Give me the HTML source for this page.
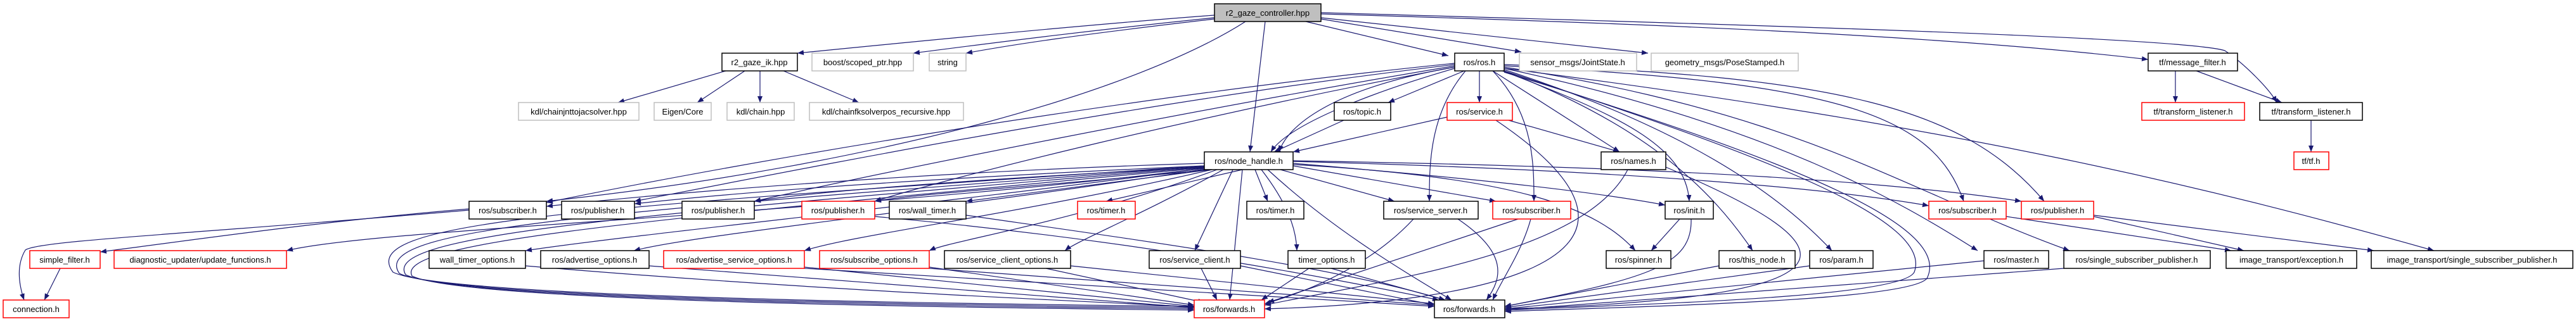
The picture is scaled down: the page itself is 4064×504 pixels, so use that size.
<!DOCTYPE html>
<html><head><meta charset="utf-8"><style>
html,body{margin:0;padding:0;background:#fff;}
svg{display:block;}
text{font-family:"Liberation Sans",sans-serif;font-size:13px;fill:#000;text-anchor:middle;}
.e path{fill:none;stroke:#191970;stroke-width:1.2;}
</style></head><body>
<svg width="4064" height="504" viewBox="0 0 4064 504" xmlns="http://www.w3.org/2000/svg">
<defs><marker id="a" markerWidth="10" markerHeight="8" refX="10" refY="4" orient="auto" markerUnits="userSpaceOnUse"><path d="M0,0 L10,4 L0,8z" fill="#191970"/></marker></defs>
<g class="e" marker-end="url(#a)">
<path marker-end="url(#a)" d="M1916,24 C1700,40 1400,70 1258,84"/>
<path marker-end="url(#a)" d="M1916,28 C1700,50 1550,70 1441,84"/>
<path marker-end="url(#a)" d="M1916,30 C1700,55 1600,70 1524,84"/>
<path marker-end="url(#a)" d="M1965,34 C1800,140 1400,260 862,318"/>
<path marker-end="url(#a)" d="M1996,34 L1972,240"/>
<path marker-end="url(#a)" d="M2060,34 L2285,88"/>
<path marker-end="url(#a)" d="M2084,30 L2400,82"/>
<path marker-end="url(#a)" d="M2084,28 L2600,84"/>
<path marker-end="url(#a)" d="M2084,22 C2700,40 3100,60 3389,94"/>
<path marker-end="url(#a)" d="M2084,20 C2800,40 3450,60 3510,80 C3540,100 3580,140 3592,162"/>
<path marker-end="url(#a)" d="M1145,112 L975,162"/>
<path marker-end="url(#a)" d="M1175,112 L1100,162"/>
<path marker-end="url(#a)" d="M1199,112 L1199,162"/>
<path marker-end="url(#a)" d="M1236,112 L1355,162"/>
<path marker-end="url(#a)" d="M3432,112 L3432,162"/>
<path marker-end="url(#a)" d="M3465,112 L3600,162"/>
<path marker-end="url(#a)" d="M3646,190 L3646,240"/>
<path marker-end="url(#a)" d="M2310,112 L2190,162"/>
<path marker-end="url(#a)" d="M2334,112 L2334,162"/>
<path marker-end="url(#a)" d="M2295,108 C2150,150 2030,200 2005,240"/>
<path marker-end="url(#a)" d="M2295,106 C2100,140 2030,200 2018,240"/>
<path marker-end="url(#a)" d="M2295,100 C1800,150 1200,250 862,320"/>
<path marker-end="url(#a)" d="M2295,102 C1800,160 1300,260 1001,318"/>
<path marker-end="url(#a)" d="M2295,104 C1900,170 1400,270 1190,318"/>
<path marker-end="url(#a)" d="M2295,106 C1900,180 1500,280 1380,318"/>
<path marker-end="url(#a)" d="M2312,112 C2255,180 2255,260 2255,318"/>
<path marker-end="url(#a)" d="M2355,112 C2420,180 2420,260 2420,318"/>
<path marker-end="url(#a)" d="M2355,112 L2555,240"/>
<path marker-end="url(#a)" d="M2370,112 C2550,180 2660,230 2665,318"/>
<path marker-end="url(#a)" d="M2373,112 C2600,200 2700,300 2765,396"/>
<path marker-end="url(#a)" d="M2373,110 C2650,200 2800,300 2890,396"/>
<path marker-end="url(#a)" d="M2373,108 C2800,200 3000,320 3120,396"/>
<path marker-end="url(#a)" d="M2373,106 C2850,180 3000,300 3265,396"/>
<path marker-end="url(#a)" d="M2373,104 C2900,130 3050,180 3098,318"/>
<path marker-end="url(#a)" d="M2373,102 C2900,120 3100,170 3225,318"/>
<path marker-end="url(#a)" d="M2373,108 C3100,200 3500,300 3840,396"/>
<path marker-end="url(#a)" d="M2373,112 C2800,250 3050,350 3020,430 C3000,470 2600,480 2374,490"/>
<path marker-end="url(#a)" d="M2373,114 C2850,260 3080,360 3040,440 C3010,475 2600,484 2374,492"/>
<path marker-end="url(#a)" d="M2120,190 L2010,240"/>
<path marker-end="url(#a)" d="M2283,185 L2040,240"/>
<path marker-end="url(#a)" d="M2380,190 L2555,240"/>
<path marker-end="url(#a)" d="M2360,190 C2700,420 2300,480 1995,488"/>
<path marker-end="url(#a)" d="M1900,258 C1500,270 1100,300 862,326"/>
<path marker-end="url(#a)" d="M1900,262 C1500,280 1200,300 1001,322"/>
<path marker-end="url(#a)" d="M1900,264 C1600,280 1300,300 1190,318"/>
<path marker-end="url(#a)" d="M1905,268 C1700,290 1450,305 1380,318"/>
<path marker-end="url(#a)" d="M1910,268 L1524,318"/>
<path marker-end="url(#a)" d="M1960,268 L1745,318"/>
<path marker-end="url(#a)" d="M1980,268 L2000,318"/>
<path marker-end="url(#a)" d="M2020,268 L2200,318"/>
<path marker-end="url(#a)" d="M2040,262 L2360,318"/>
<path marker-end="url(#a)" d="M2040,258 C2300,280 2500,300 2627,324"/>
<path marker-end="url(#a)" d="M2040,260 C2400,280 2520,330 2580,396"/>
<path marker-end="url(#a)" d="M2040,255 C2600,270 2900,300 3043,325"/>
<path marker-end="url(#a)" d="M2040,254 C2700,265 3000,290 3189,318"/>
<path marker-end="url(#a)" d="M1905,265 C1500,320 1000,370 829,396"/>
<path marker-end="url(#a)" d="M1908,266 C1500,330 1100,370 1000,396"/>
<path marker-end="url(#a)" d="M1912,268 C1600,340 1350,370 1269,396"/>
<path marker-end="url(#a)" d="M1920,268 C1700,350 1500,380 1466,396"/>
<path marker-end="url(#a)" d="M1930,268 C1800,340 1700,380 1680,396"/>
<path marker-end="url(#a)" d="M1945,268 L1885,396"/>
<path marker-end="url(#a)" d="M1990,268 C2030,320 2045,360 2046,396"/>
<path marker-end="url(#a)" d="M1960,268 L1940,474"/>
<path marker-end="url(#a)" d="M2000,268 C2100,360 2200,420 2290,474"/>
<path marker-end="url(#a)" d="M1900,266 C1300,340 600,360 452,396"/>
<path marker-end="url(#a)" d="M1900,262 C900,330 560,350 620,430 C700,470 1500,480 1884,484"/>
<path marker-end="url(#a)" d="M1900,263 C950,335 580,360 630,432 C710,472 1500,482 1884,486"/>
<path marker-end="url(#a)" d="M1900,264 C1000,340 600,370 640,434 C720,474 1500,484 1884,488"/>
<path marker-end="url(#a)" d="M1900,265 C1050,345 620,380 650,436 C730,476 1500,486 1884,490"/>
<path marker-end="url(#a)" d="M740,330 C500,350 300,380 158,398"/>
<path marker-end="url(#a)" d="M740,332 C300,370 60,380 40,395 C25,420 30,450 38,474"/>
<path marker-end="url(#a)" d="M95,424 L70,474"/>
<path marker-end="url(#a)" d="M1524,340 C1800,380 2100,420 2280,474"/>
<path marker-end="url(#a)" d="M1380,342 C1800,380 2100,440 2270,474"/>
<path marker-end="url(#a)" d="M829,420 C1300,460 1700,475 1884,485"/>
<path marker-end="url(#a)" d="M1024,420 L1884,486"/>
<path marker-end="url(#a)" d="M1269,422 L1884,484"/>
<path marker-end="url(#a)" d="M1269,424 L2263,484"/>
<path marker-end="url(#a)" d="M1466,422 L1884,482"/>
<path marker-end="url(#a)" d="M1466,424 L2263,482"/>
<path marker-end="url(#a)" d="M1650,424 L1900,478"/>
<path marker-end="url(#a)" d="M1689,420 L2263,480"/>
<path marker-end="url(#a)" d="M1895,424 L1920,474"/>
<path marker-end="url(#a)" d="M1957,420 L2263,482"/>
<path marker-end="url(#a)" d="M2065,424 L1990,474"/>
<path marker-end="url(#a)" d="M2100,424 L2280,474"/>
<path marker-end="url(#a)" d="M2230,346 C2180,400 2100,450 1995,480"/>
<path marker-end="url(#a)" d="M2300,346 C2380,400 2370,440 2345,474"/>
<path marker-end="url(#a)" d="M2395,346 L2000,478"/>
<path marker-end="url(#a)" d="M2415,346 C2400,400 2370,440 2355,474"/>
<path marker-end="url(#a)" d="M2568,268 C2500,400 2200,440 1995,482"/>
<path marker-end="url(#a)" d="M2650,346 L2605,396"/>
<path marker-end="url(#a)" d="M2668,346 C2670,420 2600,440 2374,484"/>
<path marker-end="url(#a)" d="M2712,420 L2374,484"/>
<path marker-end="url(#a)" d="M2855,420 L2374,486"/>
<path marker-end="url(#a)" d="M3130,412 L2374,488"/>
<path marker-end="url(#a)" d="M3256,424 L2374,490"/>
<path marker-end="url(#a)" d="M3165,342 L3520,396"/>
<path marker-end="url(#a)" d="M3303,342 L3540,396"/>
<path marker-end="url(#a)" d="M3303,340 L3745,396"/>
<path marker-end="url(#a)" d="M2628,264 C2900,380 3000,470 2374,488"/>
</g>
<g stroke-width="1.5">
<rect x="1916" y="6" width="168" height="28" fill="#bfbfbf" stroke="#000"/><text x="2000" y="25">r2_gaze_controller.hpp</text>
<g fill="#fff">
<rect x="1139" y="84" width="119" height="28" stroke="#000"/>
<rect x="1281" y="84" width="160" height="28" stroke="#bfbfbf"/>
<rect x="1466" y="84" width="58" height="28" stroke="#bfbfbf"/>
<rect x="2295" y="84" width="78" height="28" stroke="#000"/>
<rect x="2397" y="84" width="185" height="28" stroke="#bfbfbf"/>
<rect x="2605" y="84" width="232" height="28" stroke="#bfbfbf"/>
<rect x="3389" y="84" width="141" height="28" stroke="#000"/>
<rect x="818" y="162" width="190" height="28" stroke="#bfbfbf"/>
<rect x="1032" y="162" width="90" height="28" stroke="#bfbfbf"/>
<rect x="1147" y="162" width="106" height="28" stroke="#bfbfbf"/>
<rect x="1277" y="162" width="243" height="28" stroke="#bfbfbf"/>
<rect x="2105" y="162" width="89" height="28" stroke="#000"/>
<rect x="2283" y="162" width="103" height="28" stroke="#f00"/>
<rect x="3379" y="162" width="162" height="28" stroke="#f00"/>
<rect x="3565" y="162" width="162" height="28" stroke="#000"/>
<rect x="1900" y="240" width="140" height="28" stroke="#000"/>
<rect x="2526" y="240" width="102" height="28" stroke="#000"/>
<rect x="3619" y="240" width="55" height="28" stroke="#f00"/>
<rect x="740" y="318" width="122" height="28" stroke="#000"/>
<rect x="886" y="318" width="115" height="28" stroke="#000"/>
<rect x="1076" y="318" width="114" height="28" stroke="#000"/>
<rect x="1265" y="318" width="115" height="28" stroke="#f00"/>
<rect x="1403" y="318" width="121" height="28" stroke="#000"/>
<rect x="1700" y="318" width="91" height="28" stroke="#f00"/>
<rect x="1967" y="318" width="90" height="28" stroke="#000"/>
<rect x="2183" y="318" width="149" height="28" stroke="#000"/>
<rect x="2355" y="318" width="123" height="28" stroke="#f00"/>
<rect x="2627" y="318" width="76" height="28" stroke="#000"/>
<rect x="3043" y="318" width="122" height="28" stroke="#f00"/>
<rect x="3189" y="318" width="114" height="28" stroke="#f00"/>
<rect x="47" y="396" width="111" height="28" stroke="#f00"/>
<rect x="180" y="396" width="272" height="28" stroke="#f00"/>
<rect x="677" y="396" width="152" height="28" stroke="#000"/>
<rect x="853" y="396" width="171" height="28" stroke="#000"/>
<rect x="1047" y="396" width="222" height="28" stroke="#f00"/>
<rect x="1293" y="396" width="173" height="28" stroke="#f00"/>
<rect x="1490" y="396" width="199" height="28" stroke="#000"/>
<rect x="1813" y="396" width="144" height="28" stroke="#000"/>
<rect x="2032" y="396" width="122" height="28" stroke="#000"/>
<rect x="2534" y="396" width="102" height="28" stroke="#000"/>
<rect x="2712" y="396" width="120" height="28" stroke="#000"/>
<rect x="2855" y="396" width="100" height="28" stroke="#000"/>
<rect x="3130" y="396" width="102" height="28" stroke="#000"/>
<rect x="3256" y="396" width="231" height="28" stroke="#000"/>
<rect x="3512" y="396" width="206" height="28" stroke="#000"/>
<rect x="3741" y="396" width="318" height="28" stroke="#000"/>
<rect x="5" y="474" width="104" height="28" stroke="#f00"/>
<rect x="1884" y="474" width="111" height="28" stroke="#f00"/>
<rect x="2263" y="474" width="111" height="28" stroke="#000"/>
</g></g>
<g>
<text x="1198" y="103">r2_gaze_ik.hpp</text>
<text x="1361" y="103">boost/scoped_ptr.hpp</text>
<text x="1495" y="103">string</text>
<text x="2334" y="103">ros/ros.h</text>
<text x="2489" y="103">sensor_msgs/JointState.h</text>
<text x="2721" y="103">geometry_msgs/PoseStamped.h</text>
<text x="3459" y="103">tf/message_filter.h</text>
<text x="913" y="181">kdl/chainjnttojacsolver.hpp</text>
<text x="1077" y="181">Eigen/Core</text>
<text x="1200" y="181">kdl/chain.hpp</text>
<text x="1398" y="181">kdl/chainfksolverpos_recursive.hpp</text>
<text x="2149" y="181">ros/topic.h</text>
<text x="2334" y="181">ros/service.h</text>
<text x="3460" y="181">tf/transform_listener.h</text>
<text x="3646" y="181">tf/transform_listener.h</text>
<text x="1970" y="259">ros/node_handle.h</text>
<text x="2577" y="259">ros/names.h</text>
<text x="3646" y="259">tf/tf.h</text>
<text x="801" y="337">ros/subscriber.h</text>
<text x="943" y="337">ros/publisher.h</text>
<text x="1133" y="337">ros/publisher.h</text>
<text x="1322" y="337">ros/publisher.h</text>
<text x="1463" y="337">ros/wall_timer.h</text>
<text x="1745" y="337">ros/timer.h</text>
<text x="2012" y="337">ros/timer.h</text>
<text x="2257" y="337">ros/service_server.h</text>
<text x="2416" y="337">ros/subscriber.h</text>
<text x="2665" y="337">ros/init.h</text>
<text x="3104" y="337">ros/subscriber.h</text>
<text x="3246" y="337">ros/publisher.h</text>
<text x="102" y="415">simple_filter.h</text>
<text x="316" y="415">diagnostic_updater/update_functions.h</text>
<text x="753" y="415">wall_timer_options.h</text>
<text x="938" y="415">ros/advertise_options.h</text>
<text x="1158" y="415">ros/advertise_service_options.h</text>
<text x="1379" y="415">ros/subscribe_options.h</text>
<text x="1589" y="415">ros/service_client_options.h</text>
<text x="1885" y="415">ros/service_client.h</text>
<text x="2093" y="415">timer_options.h</text>
<text x="2585" y="415">ros/spinner.h</text>
<text x="2772" y="415">ros/this_node.h</text>
<text x="2905" y="415">ros/param.h</text>
<text x="3181" y="415">ros/master.h</text>
<text x="3371" y="415">ros/single_subscriber_publisher.h</text>
<text x="3615" y="415">image_transport/exception.h</text>
<text x="3900" y="415">image_transport/single_subscriber_publisher.h</text>
<text x="57" y="493">connection.h</text>
<text x="1939" y="493">ros/forwards.h</text>
<text x="2318" y="493">ros/forwards.h</text>
</g>
</svg>
</body></html>
